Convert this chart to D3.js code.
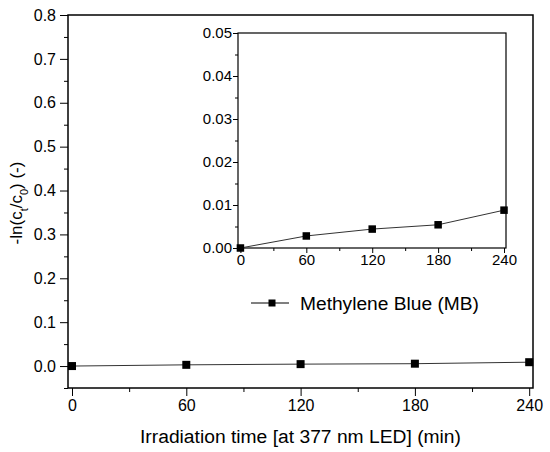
<!DOCTYPE html>
<html>
<head>
<meta charset="utf-8">
<script src="https://cdn.jsdelivr.net/npm/d3@7"></script>
<style>
  body { margin: 0; background: #fff; }
  text { font-family: "Liberation Sans", Arial, sans-serif; fill: #000; }
</style>
</head>
<body>
<div id="chart"></div>
<script>
// data
const times = [0, 60, 120, 180, 240];
const lnRatio = [0.0, 0.0028, 0.0044, 0.0054, 0.0088];
const mainXTicks = [0, 60, 120, 180, 240];
const mainYTicks = [0.0, 0.1, 0.2, 0.3, 0.4, 0.5, 0.6, 0.7, 0.8];
const insetYTicks = [0.0, 0.01, 0.02, 0.03, 0.04, 0.05];
const seriesName = "Methylene Blue (MB)";

const width = 550;
const height = 452;

const svg = d3
	.select("#chart")
	.append("svg")
	.attr("width", width)
	.attr("height", height);

const points = times.map((t, i) => ({ t: t, v: lnRatio[i] }));

// draws a framed panel with outward ticks, returns the scales
function drawPanel(box, xDomain, yDomain, opts) {
	const x = d3.scaleLinear().domain(xDomain).range([box.left, box.right]);
	const y = d3.scaleLinear().domain(yDomain).range([box.bottom, box.top]);
	const g = svg.append("g");

	// minor ticks
	g.append("g")
		.attr("transform", `translate(0,${box.bottom})`)
		.call(d3.axisBottom(x).tickValues(opts.xMinor).tickSize(opts.minor).tickFormat(""))
		.call((a) => a.select(".domain").remove());
	g.append("g")
		.attr("transform", `translate(${box.left},0)`)
		.call(d3.axisLeft(y).tickValues(opts.yMinor).tickSize(opts.minor).tickFormat(""))
		.call((a) => a.select(".domain").remove());

	// major ticks + labels
	const xa = g.append("g")
		.attr("transform", `translate(0,${box.bottom})`)
		.call(d3.axisBottom(x).tickValues(opts.xTicks).tickSize(opts.major).tickPadding(opts.pad).tickFormat(d3.format("d")));
	const ya = g.append("g")
		.attr("transform", `translate(${box.left},0)`)
		.call(d3.axisLeft(y).tickValues(opts.yTicks).tickSize(opts.major).tickPadding(opts.pad).tickFormat(d3.format(opts.yFmt)));
	[xa, ya].forEach((a) => {
		a.select(".domain").remove();
		a.selectAll("text").style("font-size", opts.font + "px").attr("fill", "#000");
	});
	g.selectAll(".tick line").attr("stroke", "#000").attr("stroke-width", 1);

	// frame
	g.append("rect")
		.attr("x", box.left)
		.attr("y", box.top)
		.attr("width", box.right - box.left)
		.attr("height", box.bottom - box.top)
		.attr("fill", "none")
		.attr("stroke", "#000")
		.attr("stroke-width", opts.frame);

	// series
	const line = d3.line().x((d) => x(d.t)).y((d) => y(d.v));
	g.append("path")
		.datum(points)
		.attr("d", line)
		.attr("fill", "none")
		.attr("stroke", "#333")
		.attr("stroke-width", 1);
	g.selectAll("rect.pt")
		.data(points)
		.enter()
		.append("rect")
		.attr("class", "pt")
		.attr("x", (d) => x(d.t) - opts.ms / 2)
		.attr("y", (d) => y(d.v) - opts.ms / 2)
		.attr("width", opts.ms)
		.attr("height", opts.ms)
		.attr("fill", "#000");

	return { x, y };
}

// main panel
drawPanel(
	{ left: 68, right: 533, top: 15, bottom: 388 },
	[-2.1, 242],
	[-0.05, 0.8],
	{
		xTicks: mainXTicks,
		xMinor: d3.range(30, 240, 60),
		yTicks: mainYTicks,
		yMinor: d3.range(-0.05, 0.8, 0.1),
		yFmt: ".1f",
		major: 8,
		minor: 4,
		pad: 4,
		font: 16,
		frame: 1.5,
		ms: 8
	}
);

// inset panel
drawPanel(
	{ left: 238, right: 506, top: 33, bottom: 248 },
	[-2.2, 241.8],
	[0, 0.05],
	{
		xTicks: mainXTicks,
		xMinor: d3.range(30, 240, 60),
		yTicks: insetYTicks,
		yMinor: d3.range(0.005, 0.05, 0.01),
		yFmt: ".2f",
		major: 5,
		minor: 3,
		pad: 1,
		font: 15,
		frame: 1.2,
		ms: 7.5
	}
);

// legend
const lg = svg.append("g").attr("transform", "translate(251,303)");
lg.append("line")
	.attr("x1", 0).attr("x2", 38)
	.attr("y1", 0).attr("y2", 0)
	.attr("stroke", "#000")
	.attr("stroke-width", 1);
lg.append("rect")
	.attr("x", 21 - 3.5).attr("y", -3.5)
	.attr("width", 7).attr("height", 7)
	.attr("fill", "#000");
lg.append("text")
	.attr("x", 49)
	.attr("y", 6.5)
	.style("font-size", "17.5px")
	.attr("textLength", 179)
	.attr("lengthAdjust", "spacingAndGlyphs")
	.text(seriesName);

// axis titles
svg.append("text")
	.attr("x", 140)
	.attr("y", 443)
	.style("font-size", "18px")
	.attr("textLength", 321)
	.attr("lengthAdjust", "spacingAndGlyphs")
	.text("Irradiation time [at 377 nm LED] (min)");

const yt = svg.append("text")
	.attr("transform", "translate(22,203) rotate(-90)")
	.attr("text-anchor", "middle")
	.style("font-size", "17px");
yt.append("tspan").text("-ln(c");
yt.append("tspan").attr("baseline-shift", "sub").style("font-size", "11px").text("t");
yt.append("tspan").text("/c");
yt.append("tspan").attr("baseline-shift", "sub").style("font-size", "11px").text("0");
yt.append("tspan").text(") (-)");
</script>
</body>
</html>
